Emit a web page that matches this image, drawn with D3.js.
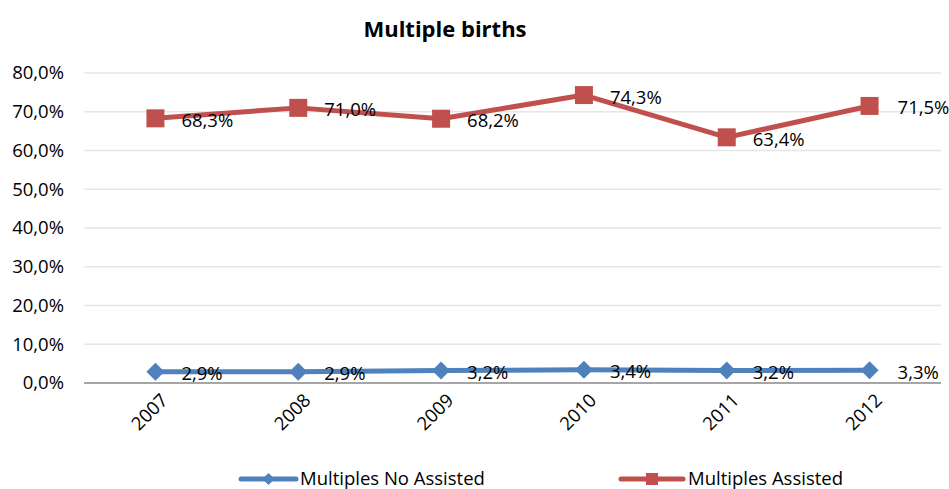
<!DOCTYPE html>
<meta charset="utf-8">
<script src="https://d3js.org/d3.v7.min.js"></script>
<style>
  body { margin: 0; background: #fff; }
  text { font-family: "Open Sans", "Noto Sans", sans-serif; fill: #000; }
</style>
<body>
<script type="text/javascript">

// chart data
var years = ["2007", "2008", "2009", "2010", "2011", "2012"];
var noAssisted = [2.9, 2.9, 3.2, 3.4, 3.2, 3.3];
var assisted = [68.3, 71.0, 68.2, 74.3, 63.4, 71.5];
var yTicks = [0, 10, 20, 30, 40, 50, 60, 70, 80];
var seriesNames = ["Multiples No Assisted", "Multiples Assisted"];

var width = 949, height = 489;
var margin = {top: 73, right: 8, bottom: 106, left: 84};

var svg = d3.select("body").append("svg")
    .attr("width", width)
    .attr("height", height);

var x = d3.scaleBand()
    .domain(years)
    .range([margin.left, width - margin.right]);

var y = d3.scaleLinear()
    .domain([0, 80])
    .range([height - margin.bottom, margin.top]);

var fmt = function(v) { return v.toFixed(1).replace(".", ",") + "%"; };

// title
svg.append("text")
    .attr("x", 445)
    .attr("y", 37)
    .attr("text-anchor", "middle")
    .style("font-size", "22px")
    .style("font-weight", "bold")
    .text("Multiple births");

// gridlines
svg.append("g")
  .selectAll("line")
  .data(yTicks.slice(1))
  .enter().append("line")
    .attr("x1", margin.left)
    .attr("x2", width - margin.right)
    .attr("y1", function(d) { return y(d); })
    .attr("y2", function(d) { return y(d); })
    .attr("stroke", "#e6e6e6")
    .attr("stroke-width", 1.5);

// y axis labels
svg.append("g")
  .selectAll("text")
  .data(yTicks)
  .enter().append("text")
    .attr("x", 64)
    .attr("y", function(d) { return y(d); })
    .attr("dy", "0.35em")
    .attr("text-anchor", "end")
    .style("font-size", "18.5px")
    .text(function(d) { return d.toFixed(1).replace(".", ",") + "%"; });

// x axis line
svg.append("line")
    .attr("x1", margin.left)
    .attr("x2", width - margin.right)
    .attr("y1", y(0))
    .attr("y2", y(0))
    .attr("stroke", "#888")
    .attr("stroke-width", 1.5);

// x labels rotated
svg.append("g")
  .selectAll("text")
  .data(years)
  .enter().append("text")
    .attr("transform", function(d) {
      return "translate(" + (x(d) + x.bandwidth() / 2 + 9) + "," + (y(0) + 14) + ") rotate(-45)";
    })
    .attr("text-anchor", "end")
    .attr("dy", "0.35em")
    .style("font-size", "18.5px")
    .text(function(d) { return d; });

var cx = function(d, i) { return x(years[i]) + x.bandwidth() / 2; };

var line = d3.line()
    .x(function(d, i) { return x(years[i]) + x.bandwidth() / 2; })
    .y(function(d) { return y(d); });

var blue = "#4F81BD", red = "#C0504D";

// blue series
svg.append("path")
    .datum(noAssisted)
    .attr("d", line)
    .attr("fill", "none")
    .attr("stroke", blue)
    .attr("stroke-width", 5)
    .attr("stroke-linejoin", "round");

svg.append("g")
  .selectAll("path")
  .data(noAssisted)
  .enter().append("path")
    .attr("transform", function(d, i) { return "translate(" + cx(d, i) + "," + y(d) + ")"; })
    .attr("d", "M0,-9L9,0L0,9L-9,0Z")
    .attr("fill", blue);

// red series
svg.append("path")
    .datum(assisted)
    .attr("d", line)
    .attr("fill", "none")
    .attr("stroke", red)
    .attr("stroke-width", 5)
    .attr("stroke-linejoin", "round");

svg.append("g")
  .selectAll("rect")
  .data(assisted)
  .enter().append("rect")
    .attr("x", function(d, i) { return cx(d, i) - 9; })
    .attr("y", function(d) { return y(d) - 9; })
    .attr("width", 18)
    .attr("height", 18)
    .attr("fill", red);

// data labels
[noAssisted, assisted].forEach(function(series) {
  svg.append("g")
    .selectAll("text")
    .data(series)
    .enter().append("text")
      .attr("x", function(d, i) { return cx(d, i) + (i == 5 ? 28 : 26); })
      .attr("y", function(d) { return y(d) + 2; })
      .attr("dy", "0.35em")
      .style("font-size", "18.5px")
      .text(fmt);
});

// legend
var legend = [
  {name: seriesNames[0], color: blue, x1: 241, x2: 296, tx: 300, shape: "diamond"},
  {name: seriesNames[1], color: red, x1: 621, x2: 683, tx: 688, shape: "square"}
];
var ly = 479;
legend.forEach(function(l) {
  var g = svg.append("g");
  g.append("line")
      .attr("x1", l.x1).attr("x2", l.x2)
      .attr("y1", ly).attr("y2", ly)
      .attr("stroke", l.color)
      .attr("stroke-width", 5)
      .attr("stroke-linecap", "round");
  var mx = (l.x1 + l.x2) / 2;
  if (l.shape == "diamond") {
    g.append("path")
      .attr("transform", "translate(" + mx + "," + ly + ")")
      .attr("d", "M0,-6L6,0L0,6L-6,0Z")
      .attr("fill", l.color);
  } else {
    g.append("rect")
      .attr("x", mx - 6).attr("y", ly - 6)
      .attr("width", 12).attr("height", 12)
      .attr("fill", l.color);
  }
  g.append("text")
      .attr("x", l.tx)
      .attr("y", ly)
      .attr("dy", "0.35em")
      .style("font-size", "18.5px")
      .text(l.name);
});

</script>
</body>
</html>
